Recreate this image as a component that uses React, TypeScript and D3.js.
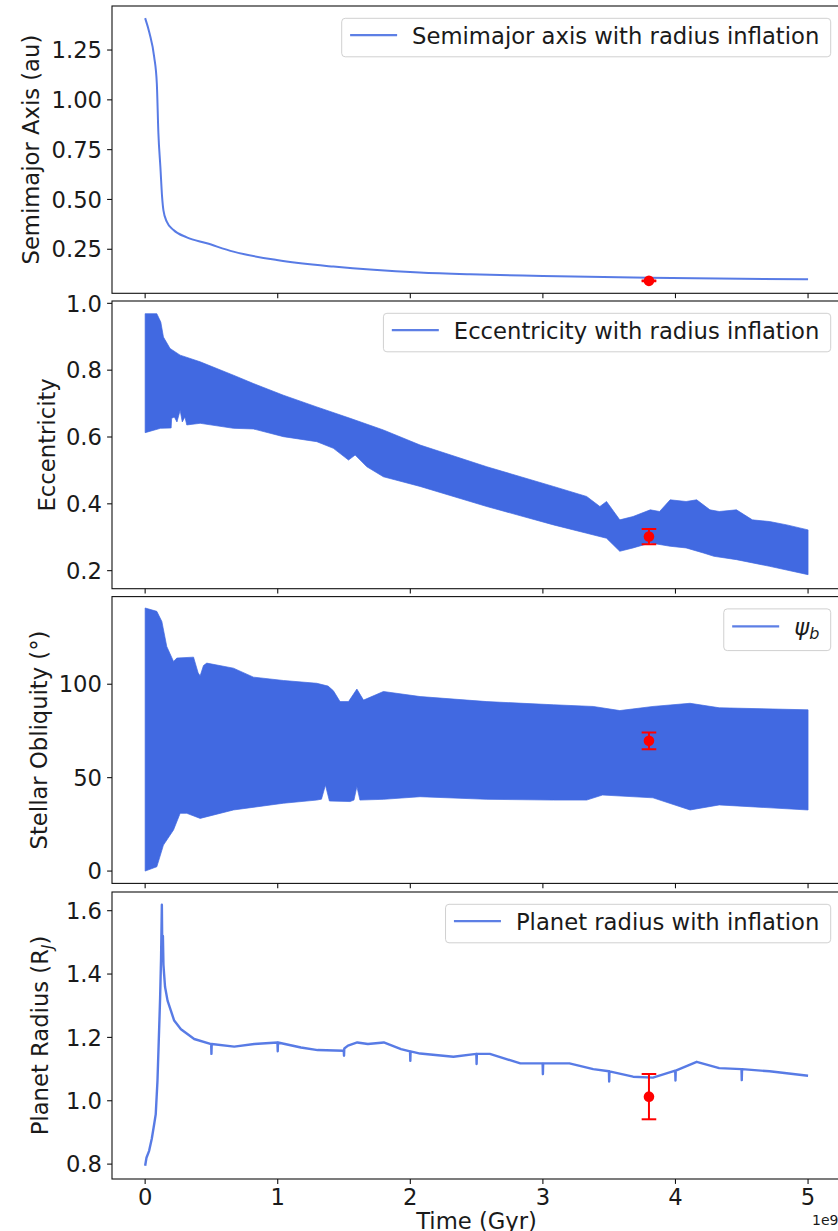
import React, { useEffect, useRef } from 'react';
import * as d3 from 'd3';

const W = 838;
const H = 1231;
const BLUE = '#4169E1';
const RED = '#ff0000';
const FONT = '"DejaVu Sans", "Liberation Sans", sans-serif';
const FS = 22.7;

// ---- shared x axis (time in Gyr, displayed with 1e9 offset) ----
const xTicks = [0, 1, 2, 3, 4, 5];
const xLimits: [number, number] = [-0.25, 5.25];

// ---- panel 1: semimajor axis (au) ----
const semimajorSeries: [number, number][] = [
  [0, 1.41], [0.033, 1.334], [0.068, 1.216], [0.088, 1.083], [0.1, 0.831],
  [0.115, 0.663], [0.128, 0.512], [0.138, 0.445], [0.163, 0.389], [0.214, 0.347],
  [0.314, 0.31], [0.465, 0.28], [0.666, 0.238], [0.993, 0.196], [1.42, 0.163],
  [2.07, 0.133], [2.45, 0.124], [3.0, 0.116], [3.8, 0.107], [5.0, 0.099],
];
const semimajorTicks = [0.25, 0.5, 0.75, 1.0, 1.25];

// ---- panel 2: eccentricity envelope (rapid oscillation band) ----
const eccUpper: [number, number][] = [
  [0, 0.969], [0.088, 0.969], [0.118, 0.944], [0.138, 0.899], [0.188, 0.865],
  [0.264, 0.845], [0.415, 0.825], [0.666, 0.785], [0.817, 0.76], [1.043, 0.725],
  [1.295, 0.69], [1.546, 0.656], [1.797, 0.621], [2.074, 0.576], [2.577, 0.511],
  [3.08, 0.452], [3.33, 0.422], [3.43, 0.392], [3.48, 0.407], [3.58, 0.352],
  [3.68, 0.362], [3.81, 0.382], [3.88, 0.377], [3.96, 0.412], [4.08, 0.407],
  [4.16, 0.412], [4.26, 0.382], [4.33, 0.377], [4.46, 0.382], [4.58, 0.352],
  [4.71, 0.347], [4.84, 0.337], [5.0, 0.322],
];
const eccLower: [number, number][] = [
  [0, 0.613], [0.116, 0.626], [0.196, 0.627], [0.2, 0.656], [0.22, 0.66],
  [0.24, 0.645], [0.264, 0.68], [0.28, 0.645], [0.3, 0.66], [0.314, 0.636],
  [0.415, 0.641], [0.666, 0.626], [0.817, 0.624], [1.043, 0.601], [1.295, 0.586],
  [1.42, 0.566], [1.534, 0.531], [1.584, 0.546], [1.672, 0.511], [1.797, 0.481],
  [2.074, 0.452], [2.577, 0.392], [3.08, 0.337], [3.33, 0.312], [3.48, 0.297],
  [3.58, 0.258], [3.68, 0.268], [3.81, 0.283], [3.96, 0.273], [4.08, 0.268],
  [4.21, 0.253], [4.29, 0.243], [4.46, 0.233], [4.71, 0.213], [5.0, 0.188],
];
const eccTicks = [0.2, 0.4, 0.6, 0.8, 1.0];

// ---- panel 3: stellar obliquity envelope (deg) ----
const obliqUpper: [number, number][] = [
  [0, 140.8], [0.088, 139], [0.126, 133.6], [0.163, 120.2], [0.214, 112.2],
  [0.239, 114], [0.365, 114.5], [0.4, 106], [0.415, 104.5], [0.44, 110],
  [0.465, 111.3], [0.666, 108.6], [0.817, 103.8], [1.043, 102], [1.295, 100.5],
  [1.38, 99], [1.42, 96.5], [1.47, 90.7], [1.534, 90.7], [1.597, 97.4],
  [1.647, 91.5], [1.797, 96.1], [2.074, 93.4], [2.577, 90.7], [3.08, 89],
  [3.38, 88.1], [3.58, 85.9], [3.83, 88.1], [4.11, 89.8], [4.33, 87.4], [5.0, 86.3],
];
const obliqLower: [number, number][] = [
  [0, 0], [0.088, 2.3], [0.138, 13.9], [0.214, 22], [0.264, 30.9],
  [0.314, 30.9], [0.415, 28.2], [0.666, 32.7], [1.043, 36.3], [1.295, 38],
  [1.33, 38.5], [1.36, 46], [1.39, 37.5], [1.546, 37.2], [1.575, 38],
  [1.597, 45.2], [1.62, 38], [1.797, 38.4], [2.074, 39.8], [2.577, 38.4],
  [3.08, 38], [3.33, 38], [3.45, 40.7], [3.83, 39.2], [4.11, 32.7],
  [4.33, 35.4], [5.0, 32.7],
];
const obliqTicks = [0, 50, 100];

// ---- panel 4: planet radius (R_J) ----
const radiusSeries: [number, number][] = [
  [0, 0.795], [0.01, 0.82], [0.03, 0.842], [0.05, 0.88], [0.068, 0.926],
  [0.08, 0.958], [0.093, 1.063], [0.106, 1.232], [0.113, 1.326], [0.12, 1.45],
  [0.126, 1.619], [0.13, 1.45], [0.134, 1.52], [0.138, 1.43], [0.143, 1.4],
  [0.15, 1.36], [0.169, 1.316], [0.219, 1.253], [0.27, 1.226], [0.37, 1.195],
  [0.498, 1.179], [0.5, 1.148], [0.502, 1.179], [0.672, 1.171], [0.823, 1.179],
  [0.998, 1.184], [1.0, 1.156], [1.002, 1.184], [1.175, 1.168], [1.301, 1.16],
  [1.498, 1.158], [1.5, 1.142], [1.502, 1.165], [1.53, 1.174], [1.6, 1.184],
  [1.68, 1.179], [1.8, 1.184], [1.93, 1.163], [1.998, 1.156], [2.0, 1.126],
  [2.002, 1.156], [2.074, 1.149], [2.325, 1.139], [2.498, 1.148], [2.5, 1.116],
  [2.502, 1.148], [2.6, 1.148], [2.83, 1.118], [2.998, 1.118], [3.0, 1.084],
  [3.002, 1.118], [3.2, 1.118], [3.38, 1.1], [3.498, 1.093], [3.5, 1.061],
  [3.502, 1.093], [3.68, 1.076], [3.83, 1.073], [3.998, 1.095], [4.0, 1.064],
  [4.002, 1.095], [4.16, 1.123], [4.33, 1.103], [4.498, 1.1], [4.5, 1.065],
  [4.502, 1.1], [4.71, 1.093], [5.0, 1.079],
];
const radiusTicks = [0.8, 1.0, 1.2, 1.4, 1.6];

// ---- observed values (red error bars) ----
const obsTime = 3.8;
const obsSemimajor = [0.0915, 0.002];
const obsEccentricity = [0.302, 0.023];
const obsObliquity = [69.7, 4.5];
const obsRadius = [1.013, 0.0715];

type Panel = {
  top: number;
  bottom: number;
  yLim: [number, number];
  ticks: number[];
  fmt: (n: number) => string;
  labelX: number;
  label: string;
  labelSub?: string;
  legend: string;
  legendMath?: boolean;
  kind: 'line' | 'band';
  smooth?: boolean;
  line?: [number, number][];
  upper?: [number, number][];
  lower?: [number, number][];
  obs: number[];
  lineWidth: number;
};

export default function App() {
  const ref = useRef<SVGSVGElement>(null);

  useEffect(() => {
    document.body.style.margin = '0';
    const svg = d3.select(ref.current as SVGSVGElement);
    svg.selectAll('*').remove();

    const x = d3.scaleLinear().domain(xLimits).range([112, 841.2]);
    const axLeft = x(xLimits[0]);
    const axRight = x(xLimits[1]);

    const panels: Panel[] = [
      {
        top: 6, bottom: 293.3, yLim: [0.029, 1.471], ticks: semimajorTicks,
        fmt: d3.format('.2f'), labelX: 38.5, label: 'Semimajor Axis (au)',
        legend: 'Semimajor axis with radius inflation', kind: 'line', smooth: true,
        line: semimajorSeries, obs: obsSemimajor, lineWidth: 2,
      },
      {
        top: 301, bottom: 588.7, yLim: [0.146, 1.007], ticks: eccTicks,
        fmt: d3.format('.1f'), labelX: 55, label: 'Eccentricity',
        legend: 'Eccentricity with radius inflation', kind: 'band',
        upper: eccUpper, lower: eccLower, obs: obsEccentricity, lineWidth: 2,
      },
      {
        top: 596.6, bottom: 883.4, yLim: [-6.6, 146.9], ticks: obliqTicks,
        fmt: d3.format('d'), labelX: 47, label: 'Stellar Obliquity (°)',
        legend: 'ψ', legendMath: true, kind: 'band',
        upper: obliqUpper, lower: obliqLower, obs: obsObliquity, lineWidth: 2,
      },
      {
        top: 892, bottom: 1179, yLim: [0.753, 1.659], ticks: radiusTicks,
        fmt: d3.format('.1f'), labelX: 47.5, label: 'Planet Radius (R', labelSub: 'J',
        legend: 'Planet radius with inflation', kind: 'line',
        line: radiusSeries, obs: obsRadius, lineWidth: 2.4,
      },
    ];

    panels.forEach((p, i) => {
      const y = d3.scaleLinear().domain(p.yLim).range([p.bottom, p.top]);
      const g = svg.append('g');
      const clipId = `clip${i}`;
      g.append('clipPath').attr('id', clipId).append('rect')
        .attr('x', axLeft).attr('y', p.top).attr('width', axRight - axLeft).attr('height', p.bottom - p.top);

      const plot = g.append('g').attr('clip-path', `url(#${clipId})`);
      const lineGen = d3.line<[number, number]>().x(d => x(d[0])).y(d => y(d[1]));

      if (p.kind === 'line' && p.line) {
        const gen = p.smooth ? lineGen.curve(d3.curveMonotoneX) : lineGen;
        plot.append('path').attr('d', gen(p.line) || '')
          .attr('fill', 'none').attr('stroke', BLUE).attr('stroke-width', p.lineWidth)
          .attr('stroke-opacity', 0.88).attr('stroke-linejoin', 'round');
      } else if (p.upper && p.lower) {
        const poly = [...p.upper, ...p.lower.slice().reverse()];
        plot.append('path').attr('d', (lineGen(poly) || '') + 'Z')
          .attr('fill', BLUE).attr('stroke', BLUE).attr('stroke-width', 1)
          .attr('stroke-opacity', 0.7).attr('stroke-linejoin', 'round');
      }

      // error bar
      const [ov, oe] = p.obs;
      const ox = x(obsTime);
      const eb = plot.append('g').attr('stroke', RED).attr('stroke-width', 2);
      eb.append('line').attr('x1', ox).attr('x2', ox).attr('y1', y(ov - oe)).attr('y2', y(ov + oe));
      [ov - oe, ov + oe].forEach(v => {
        eb.append('line').attr('x1', ox - 7.3).attr('x2', ox + 7.3).attr('y1', y(v)).attr('y2', y(v));
      });
      plot.append('circle').attr('cx', ox).attr('cy', y(ov)).attr('r', 5.3).attr('fill', RED);

      // spines
      const sp = g.append('g').attr('stroke', '#111').attr('stroke-width', 1.1).attr('fill', 'none');
      sp.append('rect').attr('x', axLeft).attr('y', p.top).attr('width', axRight - axLeft).attr('height', p.bottom - p.top);

      // y ticks
      p.ticks.forEach(t => {
        const ty = y(t);
        g.append('line').attr('x1', axLeft - 4.9).attr('x2', axLeft).attr('y1', ty).attr('y2', ty)
          .attr('stroke', '#111').attr('stroke-width', 1.1);
        g.append('text').attr('x', axLeft - 10).attr('y', ty + 8.2)
          .attr('text-anchor', 'end').attr('font-family', FONT).attr('font-size', FS)
          .attr('fill', '#1a1a1a').text(p.fmt(t));
      });

      // x ticks
      xTicks.forEach(t => {
        const tx = x(t);
        g.append('line').attr('x1', tx).attr('x2', tx).attr('y1', p.bottom).attr('y2', p.bottom + 4.9)
          .attr('stroke', '#111').attr('stroke-width', 1.1);
        if (i === panels.length - 1) {
          g.append('text').attr('x', tx).attr('y', 1205)
            .attr('text-anchor', 'middle').attr('font-family', FONT).attr('font-size', FS)
            .attr('fill', '#1a1a1a').text(String(t));
        }
      });

      // y label
      const cy = (p.top + p.bottom) / 2;
      const yl = g.append('text')
        .attr('transform', `translate(${p.labelX},${cy}) rotate(-90)`)
        .attr('text-anchor', 'middle').attr('font-family', FONT).attr('font-size', FS)
        .attr('fill', '#1a1a1a');
      yl.append('tspan').text(p.label);
      if (p.labelSub) {
        yl.append('tspan').attr('dy', 5).attr('font-size', 15.5).attr('font-style', 'italic').text(p.labelSub);
        yl.append('tspan').attr('dy', -5).text(')');
      }

      // legend
      const lg = g.append('g');
      const boxTop = p.top + 12.3;
      const boxH = p.legendMath ? 41.7 : 38.5;
      const txt = lg.append('text').attr('font-family', FONT).attr('font-size', FS).attr('fill', '#1a1a1a');
      if (p.legendMath) {
        txt.append('tspan').attr('font-style', 'italic').text(p.legend);
        txt.append('tspan').attr('font-style', 'italic').attr('font-size', 16).attr('dy', 4).text('b');
      } else {
        txt.text(p.legend);
      }
      const tw = (txt.node() as SVGTextElement).getComputedTextLength();
      const boxW = 8.4 + 47 + 15 + tw + 11.4;
      const boxLeft = axRight - 10.5 - boxW;
      lg.insert('rect', 'text').attr('x', boxLeft).attr('y', boxTop).attr('width', boxW).attr('height', boxH)
        .attr('rx', 3.5).attr('fill', 'white').attr('fill-opacity', 0.8)
        .attr('stroke', '#d0d0d0').attr('stroke-width', 1);
      const hy = boxTop + (p.legendMath ? 17.4 : 16.8);
      lg.insert('line', 'text').attr('x1', boxLeft + 8.4).attr('x2', boxLeft + 55.4).attr('y1', hy).attr('y2', hy)
        .attr('stroke', BLUE).attr('stroke-width', 2.2).attr('stroke-opacity', 0.85);
      txt.attr('x', boxLeft + 70.4).attr('y', boxTop + (p.legendMath ? 26 : 25.4));
    });

    // x label and offset text
    svg.append('text').attr('x', (axLeft + axRight) / 2).attr('y', 1229)
      .attr('text-anchor', 'middle').attr('font-family', FONT).attr('font-size', FS)
      .attr('fill', '#1a1a1a').text('Time (Gyr)');
    svg.append('text').attr('x', 838.5).attr('y', 1225)
      .attr('text-anchor', 'end').attr('font-family', FONT).attr('font-size', 14)
      .attr('fill', '#1a1a1a').text('1e9');
  }, []);

  return (
    <svg
      ref={ref}
      width={W}
      height={H}
      style={{ display: 'block', position: 'absolute', left: 0, top: 0, background: '#fff' }}
    />
  );
}
